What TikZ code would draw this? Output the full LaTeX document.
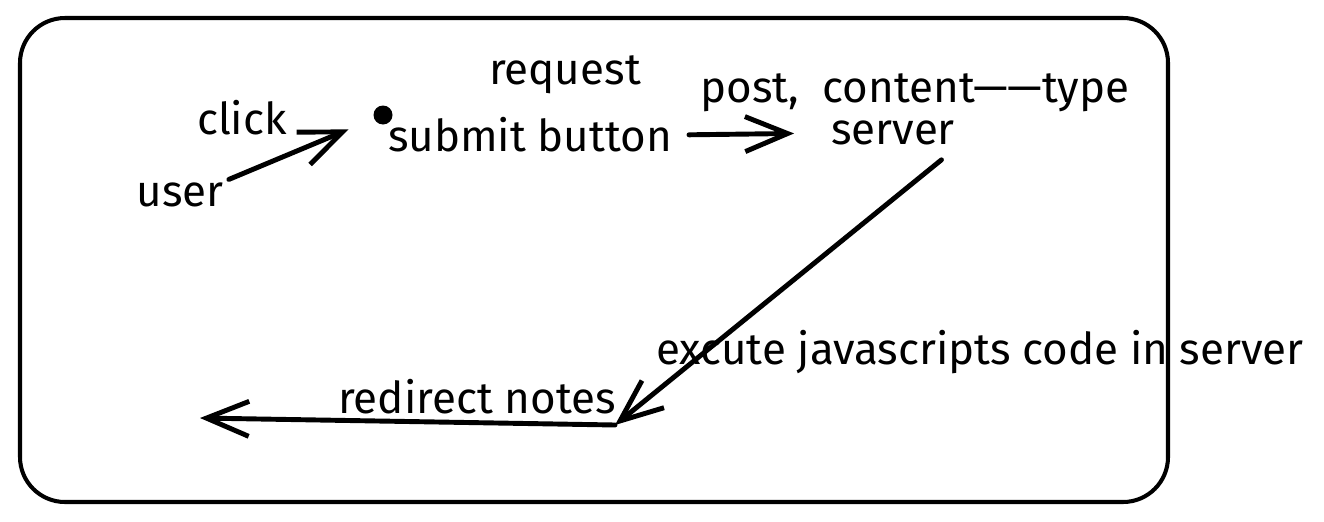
\documentclass[tikz,border=0pt]{standalone}
\usepackage{fontspec}
\setmainfont{Fira Sans}
\usepackage{tikz}
\usetikzlibrary{positioning,calc,arrows.meta}

\tikzset{
  lbl/.style={inner sep=1pt, font=\fontsize{25}{28}\selectfont},
  flow/.style={line width=2.8pt, line cap=round,
    -{Straight Barb[length=0.85cm, width=0.7cm, line width=2.8pt]}}
}

\begin{document}
\begin{tikzpicture}[x=0.02cm, y=-0.02cm]
    \useasboundingbox (0,0) rectangle (1324,521);
      % Frame
      \draw[line width=2.3pt, rounded corners=0.9cm] (20,18) rectangle (1168,502);

      % Labels
      \node[lbl] (user) at (180,195) {user};
      \node[lbl] (click) at (242,118) {click};
      \node[circle, fill, inner sep=0pt, minimum size=0.38cm] (dot) at (383,115) {};
      \node[lbl] (request) at (565,75) {request};
      \node[lbl] (submit) at (530,135) {submit button};
      \node[lbl] (post) at (915,93) {post,\ \ content——type};
      \node[lbl] (server) at (893,133) {server};
      \node[lbl] (excute) at (980,352) {excute javascripts code in server};
      \node[lbl] (redirect) at (477,397) {redirect notes};

      % Corners
      \coordinate (turn) at (615,425);
      \coordinate (sink) at (200,418);

      % Arrows
      \draw[flow, shorten <=2pt, shorten >=0.55cm] (user.north east) -- (dot);
      \draw[flow, shorten <=0.3cm, shorten >=0.7cm] (submit.east) -- (server.west);
      \draw[flow, shorten <=0.4cm] (server.south east) -- (turn);
      \draw[flow] (turn) -- (sink);
  \end{tikzpicture}
\end{document}
